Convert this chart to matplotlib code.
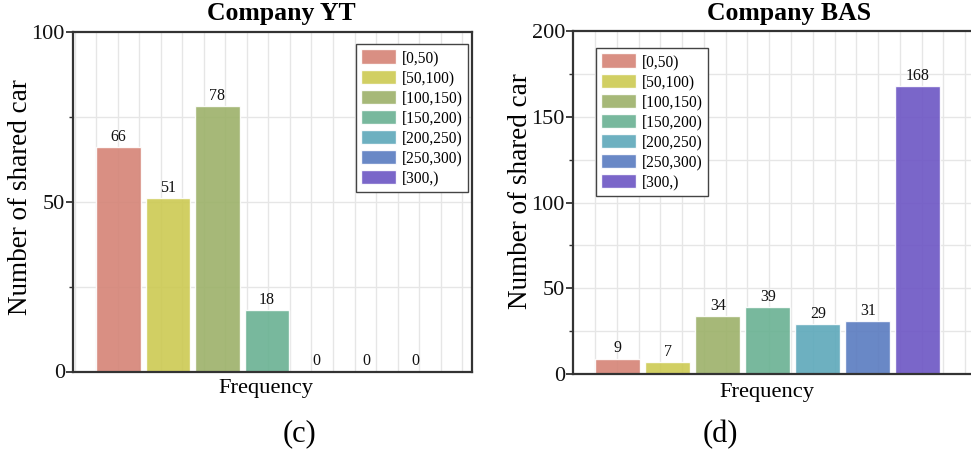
import matplotlib
matplotlib.use("Agg")
import matplotlib.pyplot as plt
import numpy as np

categories = ["[0,50)", "[50,100)", "[100,150)", "[150,200)", "[200,250)", "[250,300)", "[300,)"]
yt_values = [66, 51, 78, 18, 0, 0, 0]
bas_values = [9, 7, 34, 39, 29, 31, 168]
colors = ["#D58376", "#CCCA52", "#9CB169", "#69B192", "#5DA8BA", "#597BC0", "#6C55C4"]

plt.rcParams['font.family'] = ['Liberation Serif', 'DejaVu Serif']

W, H = 971, 457
fig = plt.figure(figsize=(W / 100, H / 100), dpi=100)

def px(x0, y0, x1, y1):
    return [x0 / W, 1 - y1 / H, (x1 - x0) / W, (y1 - y0) / H]

ax1 = fig.add_axes(px(73.3, 31.7, 472.0, 371.5))
ax2 = fig.add_axes(px(573.3, 31.0, 972.3, 374.0))

spine_c = "#333333"
grid_c = "#e6e6e6"

def style(ax, values, ymax, xlim, legend_loc, anchor):
    x = np.arange(len(values))
    for i, (v, c, lab) in enumerate(zip(values, colors, categories)):
        ax.bar(x[i], v, width=0.9, color=c, alpha=0.9, edgecolor="white",
               linewidth=1.0, label=lab, zorder=2)
        ax.annotate(str(v), (x[i], v), xytext=(0, 1.5), textcoords="offset points",
                    ha="center", va="bottom", fontsize=11.5, color="#111111", zorder=3)
    ax.set_xlim(*xlim)
    ax.set_ylim(0, ymax)
    gx = -0.45 + 0.435 * np.arange(-2, 22)
    gx = gx[(gx > xlim[0] + 0.01) & (gx < xlim[1] - 0.01)]
    for g in gx:
        ax.axvline(g, color=grid_c, lw=1.0, zorder=0)
    for g in np.arange(25, ymax, 25):
        ax.axhline(g, color=grid_c, lw=1.0, zorder=0)
    ax.set_xticks([])
    ax.set_yticks(np.arange(0, ymax + 1, 50))
    ax.set_yticks(np.arange(25, ymax, 50), minor=True)
    ax.tick_params(axis="y", which="major", direction="out", length=5, width=1.3,
                   colors=spine_c, labelsize=16, labelcolor="#111111", pad=1)
    ax.tick_params(axis="y", which="minor", direction="out", length=3, width=1.0,
                   colors=spine_c)
    for s in ax.spines.values():
        s.set_color(spine_c)
        s.set_linewidth(1.6)
    leg = ax.legend(loc=legend_loc, bbox_to_anchor=anchor, fontsize=11.2,
                    handlelength=2.2, handleheight=1.05, labelspacing=0.23,
                    handletextpad=0.39, borderpad=0.35, borderaxespad=0.0,
                    fancybox=False, framealpha=1.0, edgecolor="#444444")
    leg.get_frame().set_linewidth(1.0)

style(ax1, yt_values, 100, (-0.915, 7.145), "upper right",
      ((468 - 73.3) / 398.7, 1 - (44 - 31.7) / 339.8))
style(ax2, bas_values, 200, (-0.888, 7.09), "upper left",
      ((596 - 573.3) / 399.0, 1 - (48 - 31.0) / 343.0))

def ft(x, y, s, **kw):
    fig.text(x / W, 1 - y / H, s, **kw)

ft(281.7, 20, "Company YT", ha="center", va="baseline", fontsize=18.5, fontweight="bold")
ft(789, 20, "Company BAS", ha="center", va="baseline", fontsize=18.5, fontweight="bold")
ft(21, 197, "Number of shared car", rotation=90, ha="center", va="center", fontsize=19.5)
ft(520, 191, "Number of shared car", rotation=90, ha="center", va="center", fontsize=19.5)
ft(266, 389, "Frequency", ha="center", va="center", fontsize=16.2)
ft(766.7, 393, "Frequency", ha="center", va="center", fontsize=16.2)
ft(299, 434, "(c)", ha="center", va="center", fontsize=22)
ft(720, 435, "(d)", ha="center", va="center", fontsize=22)

fig.savefig("out.png", dpi=100)
